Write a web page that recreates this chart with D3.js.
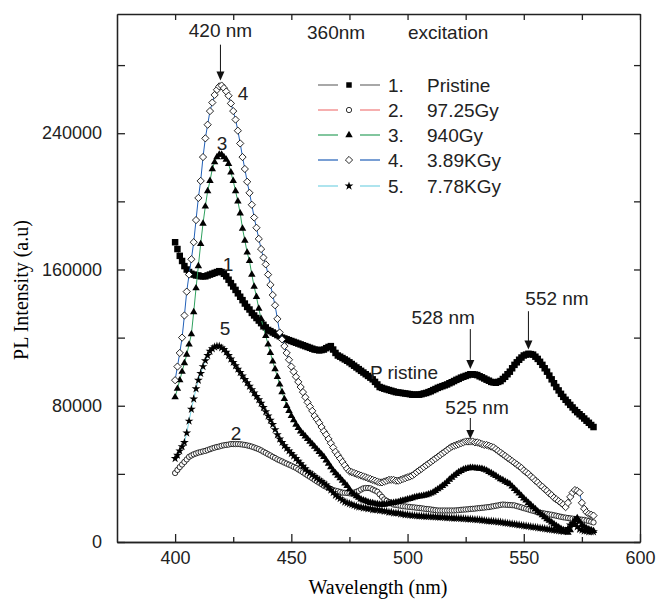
<!DOCTYPE html>
<html>
<head>
<meta charset="utf-8">
<script src="https://cdn.jsdelivr.net/npm/d3@7"></script>
<style>
  body { margin: 0; background: #fff; }
  svg { display: block; font-family: "Liberation Sans", Arial, sans-serif; }
  .axis path, .axis line { stroke: #222; stroke-width: 1.3; }
  .axis text { font-size: 18px; fill: #222; font-family: "Liberation Sans", Arial, sans-serif; }
</style>
</head>
<body>
<svg id="chart" width="656" height="600"></svg>
<script>
// muestreo cada 1 nm, 400 - 580 nm
const wavelengths = d3.range(400, 581);

// intensidades en miles de cuentas (a.u / 1000)
const pristine = [
  176,172,168,165,162,160,158.5,157.5,157,156.5,
  156.5,156,156,156,156.5,157,157.5,158,158.5,159,
  158.5,157.5,156,154,152,150,148,146,144,142,
  140,138,136.5,134.5,133,131.5,130,128.5,127.5,126,
  124.5,123.8,123,122.3,121.5,120.8,120,119.5,119,118.5,
  118,117.5,117,116.5,116,115.5,115,114.5,114,113.5,
  113,112.8,112.5,112.7,113,113.8,114.5,115,113,111,
  109.5,108.8,108,107.2,106.4,105.5,104.5,103.5,102.5,101.5,
  100.5,99.5,98.5,97.5,96.5,95.5,94,92.5,91,90.5,
  90,89.6,89.2,88.8,88.4,88,87.8,87.6,87.4,87.2,
  87,86.8,86.5,86.5,86.5,86.5,86.8,87.2,87.5,88,
  88.5,89.2,89.8,90.5,91,91.5,92,92.5,93.2,93.8,
  94.5,95.2,95.8,96.5,97,97.5,98,98.5,98.5,98.3,
  98,97.3,96.7,96,95.3,94.7,94,93.7,93.5,94,
  94.5,95.7,97,98.5,100,102,104,105.5,107,108.3,
  109.5,110,110.5,110.3,110,108.8,107.5,105.8,104,102,
  100,97.7,95.5,93.2,91,89,87,85.2,83.5,82,
  80.5,79,77.5,76.2,75,73.8,72.5,71.2,70,68.7,
  67.5
];
const gy97 = [
  40.5,42.3,44,45.5,47,48.5,50,50.8,51.5,52,
  52.5,52.8,53.2,53.5,54,54.5,55,55.4,55.8,56.1,
  56.5,56.8,57,57.2,57.5,57.5,57.5,57.5,57.4,57.2,
  57,56.7,56.4,56,55.5,55,54.5,53.8,53,52.3,
  51.5,50.8,50,49.3,48.5,47.9,47.3,46.6,46,45.4,
  44.8,44.1,43.5,42.6,41.8,40.9,40,39.1,38.3,37.4,
  36.5,35.6,34.8,33.9,33,32.4,31.8,31.1,30.5,30.1,
  29.8,29.4,29,28.9,28.8,28.6,28.5,29,29.5,30,
  30.8,31.5,31.7,31.7,31.5,30.8,30.2,29.5,28,26.5,
  25,24.2,23.5,22.7,22,21.8,21.5,21.3,21,20.9,
  20.7,20.6,20.4,20.3,20.1,20,19.8,19.6,19.4,19.3,
  19.1,18.9,18.7,18.5,18.5,18.5,18.5,18.5,18.5,18.5,
  18.5,18.6,18.7,18.9,19,19.1,19.2,19.4,19.5,19.6,
  19.8,19.9,20.1,20.2,20.4,20.5,20.8,21,21.3,21.5,
  21.8,22,21.9,21.8,21.7,21.6,21.5,21.1,20.7,20.3,
  19.9,19.5,19.1,18.7,18.3,17.9,17.5,17.2,17,16.7,
  16.5,16.2,16,15.7,15.4,15.1,14.8,14.5,14.3,14.1,
  13.9,13.7,13.5,13.4,13.3,13.1,13,12.6,12.3,11.9,
  11.5
];
const gy940 = [
  85,90,95,100,105,110,116,122,135,149,
  162,175,187,197,206,212,219,223,226,227.5,
  227.5,226,224.5,222,217,212,206,200,193,184,
  177,170,165,157,150,144,137,131,126,121,
  116,111,106,101.5,97,92.5,88,84,80,77,
  74,71.5,69,67,65,63.5,62,60.5,59,57.5,
  56,54.5,53,51.5,50,48,46,44,42,40.5,
  39,37.5,36,34.5,33,31,29,28,27,26,
  25,24.5,24,23.5,23,22.8,22.5,22.3,22,22,
  22,22.2,22.5,22.8,23,23.3,23.5,24,24.3,24.6,
  25,25.4,25.8,26.2,26.5,26.8,27,27.3,27.5,28,
  28.5,29.2,30,31,32,33,34,35.3,36.6,37.8,
  39,40,41,41.8,42.5,43,43.3,43.5,43.5,43.4,
  43.3,43.1,43,42.5,42,41.2,40.5,39.6,38.8,37.9,
  37,36.3,35.5,34.8,34,32.6,31.2,29.9,28.5,27.1,
  25.7,24.4,23,21.8,20.5,19.3,18,16.9,15.8,14.6,
  13.5,12.5,11.5,10.5,9.5,8.7,7.8,7,6.2,5.5,
  7,10,13,14,12,10,9,8,7.5,7,
  6.5
];
const kgy389 = [
  95,103,111,120,133,147,157,166,176,189,
  202,212,226,237,245,253,258,262.5,265.5,267.5,
  268,266.5,264.5,262,257.5,253,248,241.5,234,226,
  219,211.5,205,198,190.5,184.5,178,172,167,163,
  157,151,145,139,131,123,119,115,111,107,
  103,100,97,94,91,88,85,82,79.5,77,
  74,72,70,67.5,65,63,60.5,58,55.5,53,
  51,49,47,45,43,41.5,41,40.5,40,39.5,
  39,38.5,38,37.5,37,36.5,36,35.5,35,35,
  35.5,36,36.5,36.5,36.5,36,36,36.5,37,37.5,
  38,38.5,39,40,41,42,43,44,45,46,
  47,48,49,50,51,52,53,54,55,56,
  56.5,57,57.5,58,58.5,59,59,59,59,58.5,
  58.5,58,57.5,57,57,56.5,56,55.5,54.5,53.5,
  52.5,51.5,50.5,49.5,48.5,47.5,46.5,45.5,44.5,43.5,
  42,41,40,38.5,37.5,36,35,33.5,32.5,31,
  30,28.5,27.5,26,25,24,23,22,20.5,23,
  26.5,29,30.5,30,29,23,19.5,17.5,16.5,16,
  15.5
];
const kgy778 = [
  49,51,53.5,56,58.5,64,71,78,84,90,
  95,99,103,106.5,109.5,112,113.5,114.5,115,115,
  114,113,111.5,109.5,107.5,105.5,103.5,101.5,99.5,97.5,
  95.5,93.5,91.5,89.5,87.5,85.5,83.5,81.5,79,76.5,
  74,71.5,69,66,63,60.5,58.5,56.5,55,53.5,
  52,50.5,49,47.5,46,44.5,43,41.5,40.5,39.5,
  38.5,37.5,36.5,35.5,34.5,33.5,32,30.5,29,27.5,
  26.5,25.5,24.5,23.5,23,22.5,22,21.5,21,20.5,
  20.5,20,20,19.5,19.5,19,19,19,18.5,18.5,
  18,18,17.5,17.5,17,17,17,16.5,16.5,16,
  16,15.8,15.6,15.5,15.4,15.3,15.2,15.1,15,15,
  14.9,14.8,14.7,14.6,14.5,14.5,14.4,14.3,14.2,14.1,
  14,14,13.9,13.8,13.7,13.6,13.5,13.4,13.3,13.2,
  13.1,13,12.8,12.6,12.4,12.3,12.2,12.1,12,11.8,
  11.6,11.4,11.2,11,10.8,10.6,10.4,10.2,10,9.8,
  9.6,9.4,9.2,9,8.8,8.6,8.4,8.2,8,7.8,
  7.6,7.4,7.2,7,6.8,6.6,6.4,6.2,6.5,8,
  10,11,10.5,9,7.5,7,6.5,6.5,6,6,
  6
];

const seriesNums = ["1.", "2.", "3.", "4.", "5."];
const seriesNames = ["Pristine", "97.25Gy", "940Gy", "3.89KGy", "7.78KGy"];
const seriesData = [pristine, gy97, gy940, kgy389, kgy778];
const lineColors = ["#6e6e6e", "#f07a7a", "#2fa15e", "#2160b8", "#79d3e3"];

const xTicks = [400, 450, 500, 550, 600];
const xMinor = [425, 475, 525, 575];
const yTicks = [0, 80000, 160000, 240000];
const yMinor = [40000, 120000, 200000, 280000];

// etiquetas sobre la grafica: [texto, nm, valor]
const curveLabels = [
  ["4", 429.2, 263600], ["3", 420.2, 234300], ["1", 422.8, 163200],
  ["5", 421.5, 125600], ["2", 426.2, 64000]
];
// flechas de picos: [texto, nm del texto, valor del texto, nm flecha, valor inicio, valor punta]
const peakNotes = [
  ["420 nm", 419.5, 300500, 419.5, 292000, 271000],
  ["528 nm", 515.3, 132000, 527, 125000, 101500],
  ["552 nm", 564.3, 143300, 552, 135500, 113000],
  ["525 nm", 529.9, 79300, 527, 72800, 60500]
];

const UNIT = 1000;
const svg = d3.select("#chart");
const x = d3.scaleLinear().domain([375, 600]).range([117, 640]);
const y = d3.scaleLinear().domain([0, 310000]).range([542, 14]);

// marcadores
const symSquare = d3.symbol().type(d3.symbolSquare).size(42);
const symCircle = d3.symbol().type(d3.symbolCircle).size(22);
const symTri = d3.symbol().type(d3.symbolTriangle).size(24);
const symDiamond = d3.symbol().type(d3.symbolSquare).size(26);
const symStar = d3.symbol().type(d3.symbolStar).size(24);
const markers = [
  { path: symSquare(), fill: "#000", stroke: "none", rot: 0 },
  { path: symCircle(), fill: "#fff", stroke: "#000", rot: 0 },
  { path: symTri(), fill: "#000", stroke: "none", rot: 0 },
  { path: symDiamond(), fill: "#fff", stroke: "#000", rot: 45 },
  { path: symStar(), fill: "#000", stroke: "none", rot: 0 }
];
const legSquare = d3.symbol().type(d3.symbolSquare).size(30)();

const line = d3.line()
  .x((d, i) => x(wavelengths[i]))
  .y(d => y(d * UNIT));

const plot = svg.append("g");
seriesData.forEach((vals, s) => {
  const g = plot.append("g");
  g.append("path")
    .datum(vals)
    .attr("d", line)
    .attr("fill", "none")
    .attr("stroke", lineColors[s])
    .attr("stroke-width", 1);
  g.selectAll("path.m")
    .data(vals)
    .enter()
    .append("path")
    .attr("class", "m")
    .attr("d", markers[s].path)
    .attr("transform", (d, i) => `translate(${x(wavelengths[i])},${y(d * UNIT)}) rotate(${markers[s].rot})`)
    .attr("fill", markers[s].fill)
    .attr("stroke", markers[s].stroke)
    .attr("stroke-width", 0.8);
});

// ejes con marcas hacia dentro
svg.append("g").attr("class", "axis").attr("transform", "translate(0,542)")
  .call(d3.axisBottom(x).tickValues(xTicks).tickSize(-8).tickSizeOuter(0).tickPadding(9).tickFormat(d3.format("d")));
svg.append("g").attr("class", "axis").attr("transform", "translate(0,542)")
  .call(d3.axisBottom(x).tickValues(xMinor).tickSize(-5).tickSizeOuter(0).tickFormat(""));
svg.append("g").attr("class", "axis").attr("transform", "translate(0,14)")
  .call(d3.axisTop(x).tickValues(xTicks.concat(xMinor)).tickSize(-6).tickSizeOuter(0).tickFormat(""));
svg.append("g").attr("class", "axis").attr("transform", "translate(117,0)")
  .call(d3.axisLeft(y).tickValues(yTicks).tickSize(-8).tickSizeOuter(0).tickPadding(15).tickFormat(d3.format("d")));
svg.append("g").attr("class", "axis").attr("transform", "translate(117,0)")
  .call(d3.axisLeft(y).tickValues(yMinor).tickSize(-8).tickSizeOuter(0).tickFormat(""));
svg.append("g").attr("class", "axis").attr("transform", "translate(640,0)")
  .call(d3.axisRight(y).tickValues(yTicks.concat(yMinor)).tickSize(-6).tickSizeOuter(0).tickFormat(""));

// titulos de ejes
svg.append("text")
  .attr("x", 378).attr("y", 594)
  .attr("text-anchor", "middle")
  .style("font-family", "'Liberation Serif', 'Times New Roman', serif")
  .style("font-size", "20px")
  .text("Wavelength (nm)");
svg.append("text")
  .attr("transform", "translate(28,290) rotate(-90)")
  .attr("text-anchor", "middle")
  .style("font-family", "'Liberation Serif', 'Times New Roman', serif")
  .style("font-size", "20px")
  .text("PL Intensity (a.u)");

// leyenda
const ann = svg.append("g").style("font-size", "19px").attr("fill", "#222");
ann.append("text").attr("x", 307).attr("y", 39).text("360nm");
ann.append("text").attr("x", 408).attr("y", 39).text("excitation");
const legRows = [85, 110, 135, 160, 186];
seriesNames.forEach((name, s) => {
  const ly = legRows[s];
  const lg = ann.append("g");
  lg.append("line").attr("x1", 318).attr("x2", 338).attr("y1", ly).attr("y2", ly)
    .attr("stroke", lineColors[s]).attr("stroke-width", 1.2);
  lg.append("line").attr("x1", 360).attr("x2", 380).attr("y1", ly).attr("y2", ly)
    .attr("stroke", lineColors[s]).attr("stroke-width", 1.2);
  lg.append("path").attr("d", s === 0 ? legSquare : markers[s].path)
    .attr("transform", `translate(349,${ly}) rotate(${markers[s].rot})`)
    .attr("fill", markers[s].fill).attr("stroke", markers[s].stroke).attr("stroke-width", 0.8);
  lg.append("text").attr("x", 388).attr("y", ly).attr("dy", "0.36em").text(seriesNums[s]);
  lg.append("text").attr("x", 427).attr("y", ly).attr("dy", "0.36em").text(name);
});

// numeros de curvas
curveLabels.forEach(([t, wl, v]) => {
  ann.append("text").attr("x", x(wl)).attr("y", y(v)).attr("dy", "0.36em")
    .attr("text-anchor", "middle").text(t);
});
ann.append("text").attr("x", x(483.8)).attr("y", y(99800)).attr("dy", "0.36em").text("P ristine");

// flechas
peakNotes.forEach(([t, wl, v, awl, v0, v1]) => {
  ann.append("text").attr("x", x(wl)).attr("y", y(v)).attr("dy", "0.36em")
    .attr("text-anchor", "middle").text(t);
  const ax = x(awl), y0 = y(v0), y1 = y(v1);
  ann.append("line").attr("x1", ax).attr("x2", ax).attr("y1", y0).attr("y2", y1 - 6)
    .attr("stroke", "#111").attr("stroke-width", 1);
  ann.append("path")
    .attr("d", `M${ax - 4},${y1 - 9}L${ax + 4},${y1 - 9}L${ax},${y1}Z`)
    .attr("fill", "#111");
});
</script>
</body>
</html>
